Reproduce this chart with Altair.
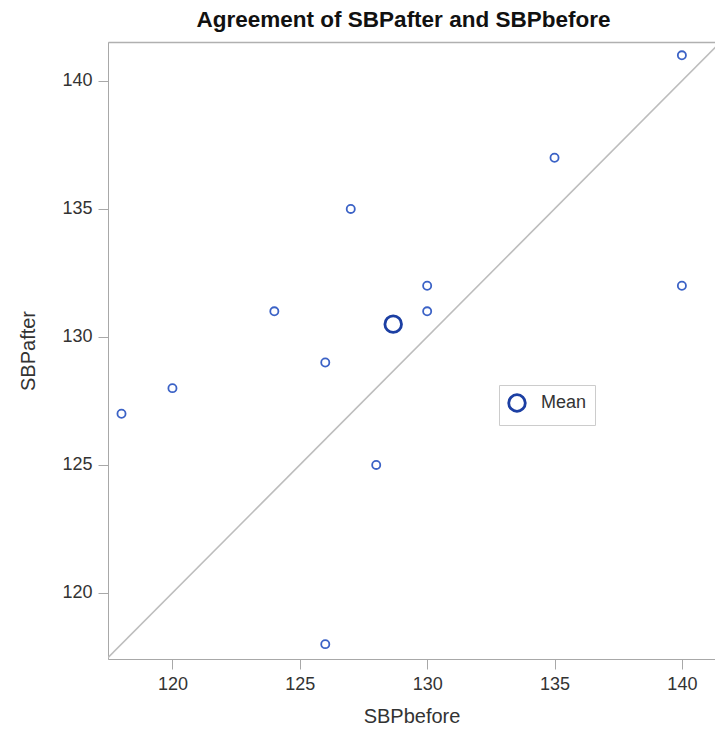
import altair as alt
import pandas as pd

sbp_before = [118, 120, 124, 126, 126, 127, 128, 130, 130, 135, 140, 140]
sbp_after = [127, 128, 131, 129, 118, 135, 125, 132, 131, 137, 141, 132]
mean_before = [sum(sbp_before) / len(sbp_before)]
mean_after = [sum(sbp_after) / len(sbp_after)]
mean_label = ["Mean"]
diag_vals = [117.0, 142.0]
x_ticks = [120, 125, 130, 135, 140]
y_ticks = [120, 125, 130, 135, 140]

pts = pd.DataFrame({"SBPbefore": sbp_before, "SBPafter": sbp_after})
mean_df = pd.DataFrame({"SBPbefore": mean_before, "SBPafter": mean_after, "lab": mean_label})
diag = pd.DataFrame({"SBPbefore": diag_vals, "SBPafter": diag_vals})

xs = alt.Scale(domain=[117.47, 141.3], nice=False, zero=False)
ys = alt.Scale(domain=[117.42, 141.52], nice=False, zero=False)

font = "Liberation Sans"
axis_common = dict(
    domainColor="#a8a8a8", tickColor="#a8a8a8", tickSize=10, grid=False,
    labelFont=font, labelFontSize=18, labelColor="#333333",
    titleFont=font, titleFontSize=20, titleColor="#333333", titleFontWeight="normal",
)

x_enc = alt.X("SBPbefore:Q", scale=xs,
              axis=alt.Axis(values=x_ticks, title="SBPbefore", labelPadding=6, titlePadding=13, **axis_common))
x_top = alt.X("SBPbefore:Q", scale=xs,
              axis=alt.Axis(orient="top", labels=False, ticks=False, title=None, grid=False,
                            domainColor="#b0b0b0", domainWidth=1.5))
x_none = alt.X("SBPbefore:Q", scale=xs, axis=None)
y_enc = alt.Y("SBPafter:Q", scale=ys,
              axis=alt.Axis(values=y_ticks, title="SBPafter", labelPadding=6, titlePadding=23, **axis_common))
y_none = alt.Y("SBPafter:Q", scale=ys, axis=None)

line = alt.Chart(diag).mark_line(color="#bdbdbd", strokeWidth=1.6, clip=True).encode(x=x_top, y=y_enc)

points = alt.Chart(pts).mark_point(shape="circle", filled=False, size=66, strokeWidth=1.8,
                                   color="#3b62c6", opacity=1).encode(x=x_enc, y=y_none)

mean_pt = alt.Chart(mean_df).mark_point(shape="circle", filled=False, size=275, strokeWidth=2.8,
                                        opacity=1).encode(
    x=x_none, y=y_none,
    color=alt.Color("lab:N", scale=alt.Scale(domain=mean_label, range=["#1c3fa3"]),
                    legend=alt.Legend(title=None, orient="none", legendX=391, legendY=343,
                                      padding=8, strokeColor="#cccccc", fillColor="white",
                                      symbolType="circle", symbolSize=275, symbolStrokeWidth=2.8,
                                      symbolFillColor="transparent",
                                      labelFont=font, labelFontSize=18, labelColor="#333333",
                                      labelOffset=14)),
)

chart = alt.layer(line, points, mean_pt).resolve_axis(x="independent", y="independent").properties(
    width=607, height=617,
    title=alt.TitleParams("Agreement of SBPafter and SBPbefore", font=font, fontSize=22.5,
                          fontWeight="bold", color="#111111", anchor="middle", offset=11, dx=-8),
    autosize=alt.AutoSizeParams(type="none"),
    padding={"left": 108, "top": 42, "right": 0, "bottom": 76},
).configure_view(strokeWidth=0).configure(background="white")

chart.save("out.html", embed_options={"renderer": "svg", "actions": False})
